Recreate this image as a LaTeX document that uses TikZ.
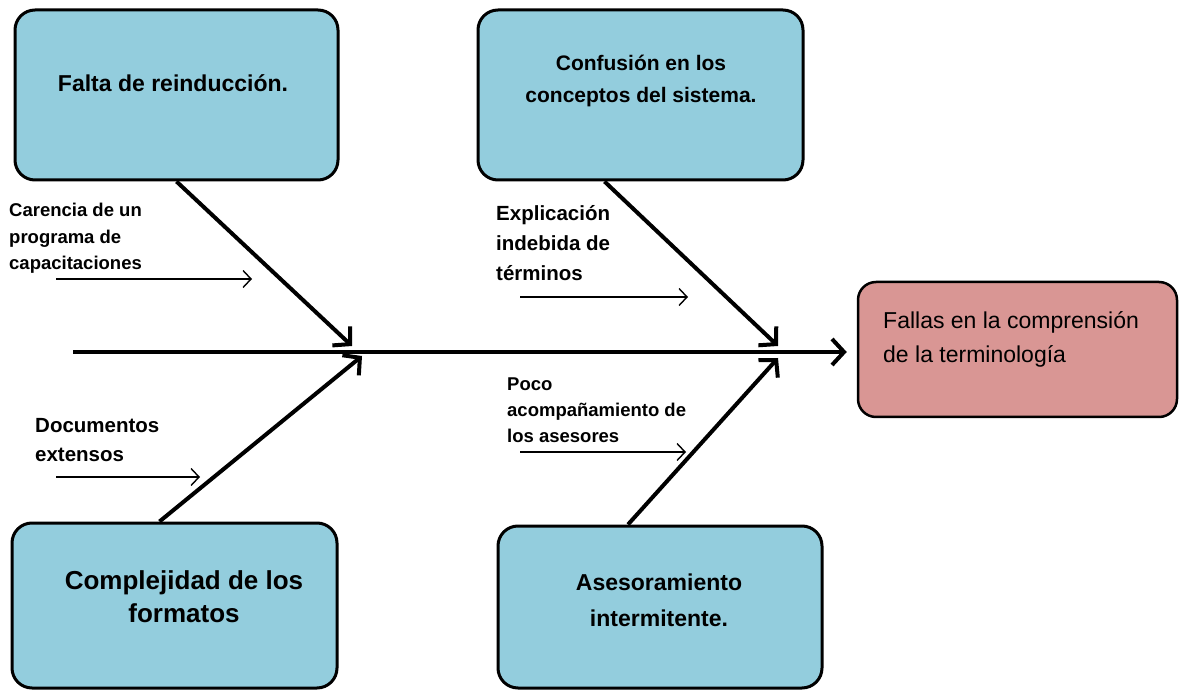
\documentclass[tikz,border=0pt]{standalone}
\usepackage{fontspec}
\setmainfont{Liberation Sans}
\usetikzlibrary{arrows.meta}

\definecolor{causeblue}{HTML}{93CDDD}
\definecolor{effectpink}{HTML}{D99694}

\tikzset{
  causebox/.style={draw, line width=3pt, rounded corners=20pt, fill=causeblue, inner sep=0pt},
  effectbox/.style={draw, line width=2.5pt, rounded corners=18pt, fill=effectpink, inner sep=0pt},
  boxtext/.style={align=center, inner sep=0pt, font=\bfseries},
  smalltext/.style={align=left, anchor=north west, inner sep=0pt, font=\bfseries},
  spine/.style={line width=4pt, -{Straight Barb[length=12pt,width=26pt]}},
  bone/.style={line width=4pt, -{Straight Barb[length=12pt,width=26pt]}},
  minor/.style={line width=1.4pt, -{Straight Barb[length=8pt,width=17pt]}},
}

\begin{document}
\begin{tikzpicture}[x=1pt,y=-1pt]
       \useasboundingbox (0,0) rectangle (1184,692);

       % cause boxes
       \node[causebox, minimum width=323pt, minimum height=170pt](falta) at (176.5,95) {};
       \node[boxtext, font=\bfseries\fontsize{23}{30}\selectfont](faltaT) at (173,83) {Falta de reinducción.};

       \node[causebox, minimum width=325pt, minimum height=170pt](confu) at (640.5,95) {};
       \node[boxtext, font=\bfseries\fontsize{21}{32}\selectfont](confuT) at (641,81) {Confusión en los\\conceptos del sistema.};

       \node[causebox, minimum width=325pt, minimum height=165pt](compl) at (174.5,605.5) {};
       \node[boxtext, font=\bfseries\fontsize{26}{33}\selectfont](complT) at (184,597) {Complejidad de los\\formatos};

       \node[causebox, minimum width=324pt, minimum height=162pt](asesor) at (660,607) {};
       \node[boxtext, font=\bfseries\fontsize{23}{36}\selectfont](asesorT) at (659,600) {Asesoramiento\\intermitente.};

       % effect box
       \node[effectbox, minimum width=319pt, minimum height=135pt](fallas) at (1017.5,349.5) {};
       \node[align=left, anchor=north west, inner sep=0pt, font=\fontsize{23}{34}\selectfont](fallasT) at (883,311) {Fallas en la comprensión\\de la terminología};

       % spine and bones
       \coordinate(s0) at (73,352);
       \coordinate(j1) at (352,346);
       \coordinate(j2) at (362,356);
       \coordinate(j3) at (778,346);
       \coordinate(j4) at (778,358);
       \draw[spine] (s0) -- (s0 -| fallas.west) [shorten >=10pt];

       \draw[bone] (falta.south) -- (j1);
       \draw[bone] ([xshift=-15pt]compl.north) -- (j2);
       \draw[bone] ([xshift=-36pt]confu.south) -- (j3);
       \draw[bone] ([xshift=-32pt]asesor.north) -- (j4);

       % sub-causes
       \node[smalltext, font=\bfseries\fontsize{18.5}{26.5}\selectfont](caren) at (9,203) {Carencia de un\\programa de\\capacitaciones};
       \coordinate(a1) at (56,279);
       \coordinate(b1) at (252,279);
       \draw[minor] (a1) -- (b1);

       \node[smalltext, font=\bfseries\fontsize{20.5}{29}\selectfont](docum) at (35,418) {Documentos\\extensos};
       \coordinate(a2) at (56,477);
       \coordinate(b2) at (200,477);
       \draw[minor] (a2) -- (b2);

       \node[smalltext, font=\bfseries\fontsize{20.5}{30}\selectfont](expli) at (496,205) {Explicación\\indebida de\\términos};
       \coordinate(a3) at (520,297);
       \coordinate(b3) at (688,297);
       \draw[minor] (a3) -- (b3);

       \node[smalltext, font=\bfseries\fontsize{18.5}{26}\selectfont](poco) at (507,378) {Poco\\acompañamiento de\\los asesores};
       \coordinate(a4) at (520,452);
       \coordinate(b4) at (686,452);
       \draw[minor] (a4) -- (b4);
\end{tikzpicture}
\end{document}
